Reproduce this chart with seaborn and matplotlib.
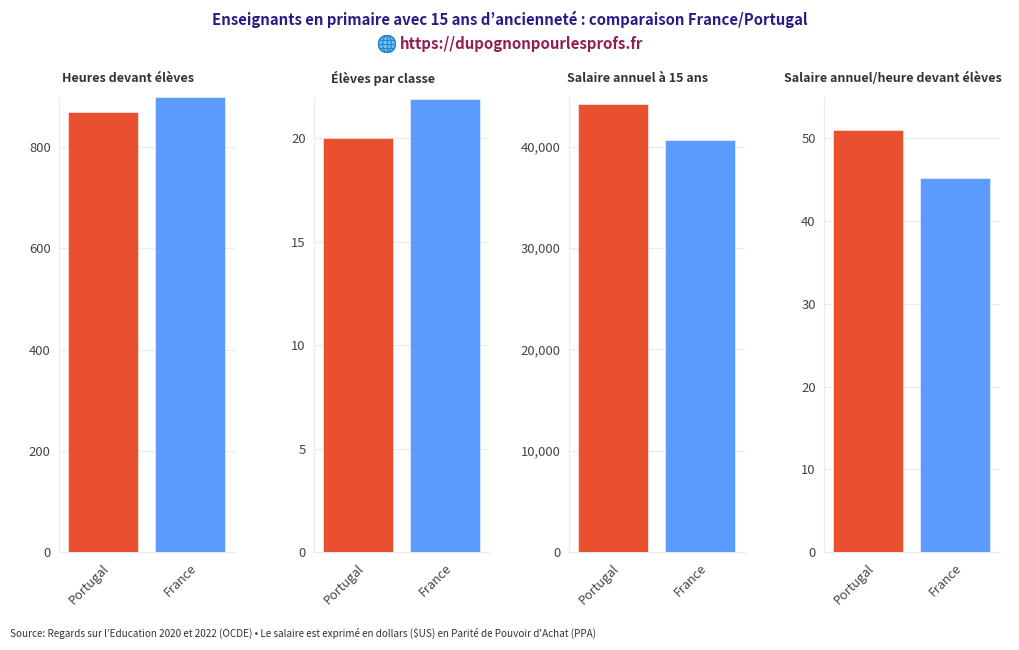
import matplotlib
matplotlib.use("Agg")
import matplotlib.pyplot as plt
from matplotlib.patches import Circle, Ellipse
import seaborn as sns
import pandas as pd

# Values
countries = ["Portugal", "France"]
heures = [869, 899]
eleves = [20, 21.9]
salaire = [44250, 40700]
salaire_heure = [51, 45.2]

panel_titles = ["Heures devant élèves", "Élèves par classe", "Salaire annuel à 15 ans", "Salaire annuel/heure devant élèves"]
panel_values = [heures, eleves, salaire, salaire_heure]
panel_ymax = [899, 22, 44900, 55]
panel_ticks = [
    [0, 200, 400, 600, 800],
    [0, 5, 10, 15, 20],
    [0, 10000, 20000, 30000, 40000],
    [0, 10, 20, 30, 40, 50],
]
panel_left = [59, 314, 569, 824]

title = "Enseignants en primaire avec 15 ans d’ancienneté : comparaison France/Portugal"
url = "https://dupognonpourlesprofs.fr"
source = "Source: Regards sur l’Education 2020 et 2022 (OCDE) • Le salaire est exprimé en dollars ($US) en Parité de Pouvoir d'Achat (PPA)"

sns.set_style("white")
# KR cut of the font has proportional quotes and bullet
plt.rcParams["font.family"] = ["Noto Sans CJK KR", "DejaVu Sans"]

W, H = 1020, 650
fig = plt.figure(figsize=(W / 100, H / 100), dpi=100)
colors = {"Portugal": "#E8431F", "France": "#4F94FF"}
grey = "#444444"
light = "#EBEBEB"

for i in range(4):
    ax = fig.add_axes([panel_left[i] / W, 1 - 552 / H, 175.5 / W, 455 / H])
    df = pd.DataFrame({"pays": countries, "valeur": panel_values[i]})
    sns.barplot(data=df, x="pays", y="valeur", hue="pays", palette=colors, order=countries,
                hue_order=countries, width=0.8, legend=False, saturation=1, alpha=0.93,
                edgecolor="#ffffff", linewidth=0.4, ax=ax, zorder=3)
    ax.set_xlim(-0.505, 1.512)
    ax.set_ylim(0, panel_ymax[i])
    ax.set_xlabel("")
    ax.set_ylabel("")
    ax.set_yticks(panel_ticks[i])
    if i == 2:
        ax.set_yticklabels([f"{t:,}" for t in panel_ticks[i]])
    ax.grid(axis="y", color=light, linewidth=0.8, zorder=0)
    ax.set_axisbelow(True)
    for s in ["top", "right"]:
        ax.spines[s].set_visible(False)
    for s in ["left", "bottom"]:
        ax.spines[s].set_color(light)
        ax.spines[s].set_linewidth(0.8)
    ax.tick_params(axis="y", length=0, pad=6, labelsize=9.4, labelcolor=grey)
    ax.tick_params(axis="x", length=4, width=0.8, color=light, pad=3, labelsize=9.1, labelcolor=grey)
    for lab in ax.get_xticklabels():
        lab.set_rotation(45)
        lab.set_ha("right")
        lab.set_va("top")
        lab.set_rotation_mode("anchor")
    fig.text([128, 383, 638, 893][i] / W, 1 - 78 / H, panel_titles[i], fontsize=9.0, fontweight="bold",
             color="#333333", ha="center", va="center")

fig.text(510 / W, 1 - 19 / H, title, fontsize=10.75, fontweight="bold", color="#2E1A87", ha="center", va="center")
fig.text(522 / W, 1 - 44 / H, url, fontsize=10.8, fontweight="bold", color="#931E4F", ha="center", va="center")
fig.text(10 / W, 1 - 633 / H, source, fontsize=7.18, color="#333333", ha="left", va="center")

# globe icon before the url, drawn in pixel coordinates
icon = fig.add_axes([378 / W, 1 - 53 / H, 18 / W, 18 / H])
icon.set_xlim(-1, 1)
icon.set_ylim(-1, 1)
icon.axis("off")
icon.add_patch(Circle((0, 0), 0.95, fc="#7CC4F0", ec="#1E88D2", lw=1.2))
icon.add_patch(Ellipse((0, 0), 0.95, 1.9, fc="none", ec="#1E88D2", lw=0.9))
icon.plot([0, 0], [-0.95, 0.95], color="#1E88D2", lw=0.9)
icon.plot([-0.95, 0.95], [0, 0], color="#1E88D2", lw=0.9)
icon.plot([-0.82, 0.82], [0.47, 0.47], color="#1E88D2", lw=0.9)
icon.plot([-0.82, 0.82], [-0.47, -0.47], color="#1E88D2", lw=0.9)

fig.savefig("out.png", dpi=100)
